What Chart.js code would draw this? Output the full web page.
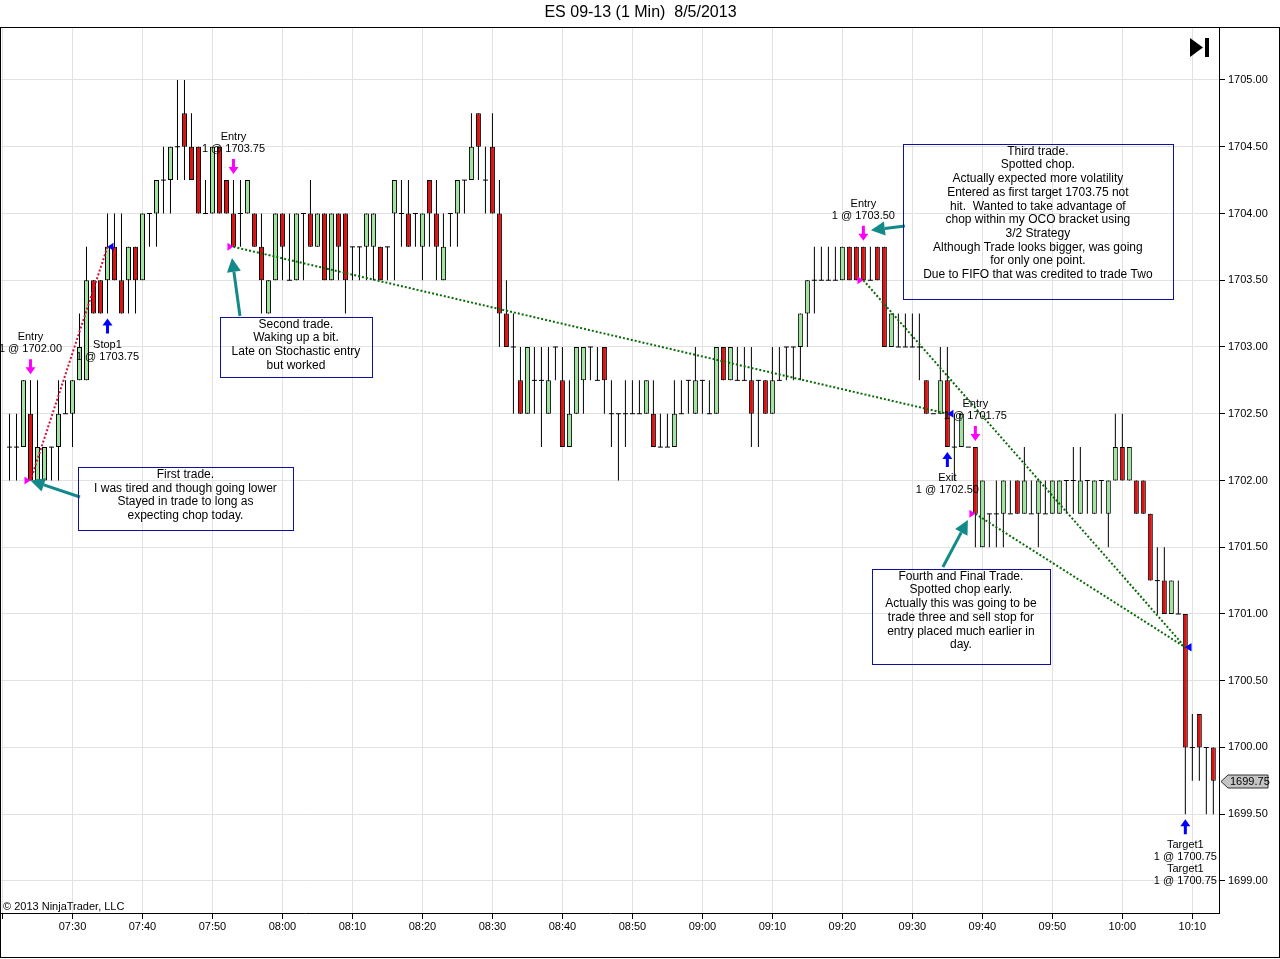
<!DOCTYPE html>
<html><head><meta charset="utf-8">
<script src="https://cdn.jsdelivr.net/npm/chart.js@4.4.0/dist/chart.umd.min.js"></script>
<style>html,body{margin:0;padding:0;background:#fff;overflow:hidden}canvas{display:block}</style>
</head><body>
<canvas id="c" width="1280" height="959"></canvas>
<script>
// ---- data (ES 09-13, 1 minute bars, 8/5/2013) ----
const times = [
'07:21','07:22','07:23','07:24','07:25','07:26','07:27','07:28','07:29','07:30',
'07:31','07:32','07:33','07:34','07:35','07:36','07:37','07:38','07:39','07:40',
'07:41','07:42','07:43','07:44','07:45','07:46','07:47','07:48','07:49','07:50',
'07:51','07:52','07:53','07:54','07:55','07:56','07:57','07:58','07:59','08:00',
'08:01','08:02','08:03','08:04','08:05','08:06','08:07','08:08','08:09','08:10',
'08:11','08:12','08:13','08:14','08:15','08:16','08:17','08:18','08:19','08:20',
'08:21','08:22','08:23','08:24','08:25','08:26','08:27','08:28','08:29','08:30',
'08:31','08:32','08:33','08:34','08:35','08:36','08:37','08:38','08:39','08:40',
'08:41','08:42','08:43','08:44','08:45','08:46','08:47','08:48','08:49','08:50',
'08:51','08:52','08:53','08:54','08:55','08:56','08:57','08:58','08:59','09:00',
'09:01','09:02','09:03','09:04','09:05','09:06','09:07','09:08','09:09','09:10',
'09:11','09:12','09:13','09:14','09:15','09:16','09:17','09:18','09:19','09:20',
'09:21','09:22','09:23','09:24','09:25','09:26','09:27','09:28','09:29','09:30',
'09:31','09:32','09:33','09:34','09:35','09:36','09:37','09:38','09:39','09:40',
'09:41','09:42','09:43','09:44','09:45','09:46','09:47','09:48','09:49','09:50',
'09:51','09:52','09:53','09:54','09:55','09:56','09:57','09:58','09:59','10:00',
'10:01','10:02','10:03','10:04','10:05','10:06','10:07','10:08','10:09','10:10',
'10:11','10:12','10:13'];
const opens = [
1702.25,1702.25,1702.25,1702.5,1702.0,1702.0,1702.25,1702.25,1702.5,1702.5,
1702.75,1702.75,1703.5,1703.5,1703.5,1703.75,1703.5,1703.5,1703.75,1703.5,
1704.0,1704.0,1704.25,1704.25,1704.5,1704.75,1704.5,1704.5,1704.0,1704.0,
1704.5,1704.25,1704.0,1704.0,1704.0,1704.0,1703.75,1703.25,1703.5,1704.0,
1703.5,1703.5,1704.0,1704.0,1703.75,1704.0,1703.5,1704.0,1704.0,1703.75,
1703.75,1703.75,1703.75,1703.75,1703.75,1704.0,1704.0,1704.0,1704.0,1703.75,
1704.25,1704.0,1703.5,1704.0,1704.0,1704.25,1704.25,1704.75,1704.25,1704.5,
1704.0,1703.25,1703.0,1702.75,1702.5,1702.75,1702.75,1702.5,1703.0,1702.75,
1702.25,1702.5,1702.75,1703.0,1702.75,1703.0,1702.5,1702.5,1702.5,1702.5,
1702.5,1702.5,1702.5,1702.25,1702.25,1702.25,1702.5,1702.75,1702.5,1702.75,
1702.5,1702.5,1703.0,1702.75,1702.75,1702.75,1702.75,1702.75,1702.75,1702.5,
1702.75,1703.0,1703.0,1703.0,1703.25,1703.5,1703.5,1703.5,1703.5,1703.5,
1703.75,1703.75,1703.75,1703.5,1703.75,1703.75,1703.0,1703.0,1703.0,1703.0,
1703.0,1702.75,1702.5,1702.5,1702.75,1702.25,1702.25,1702.25,1702.25,1701.5,
1701.75,1701.75,1701.75,1701.75,1702.0,1701.75,1701.75,1701.75,1701.75,1701.75,
1701.75,1702.0,1702.0,1701.75,1702.0,1701.75,1702.0,1701.75,1702.0,1702.25,
1702.0,1702.0,1702.0,1701.75,1701.25,1701.25,1701.0,1701.0,1701.0,1700.0,
1700.25,1700.0,1700.0];
const highs = [
1702.5,1702.5,1702.75,1702.75,1702.75,1702.25,1702.25,1702.75,1702.75,1702.75,
1703.25,1703.75,1703.5,1703.5,1704.0,1704.0,1704.0,1703.75,1703.75,1704.0,
1704.0,1704.25,1704.5,1704.5,1705.0,1705.0,1704.75,1704.5,1704.25,1704.5,
1704.5,1704.25,1704.25,1704.25,1704.25,1704.0,1704.0,1703.5,1704.0,1704.0,
1704.0,1704.0,1704.0,1704.25,1704.0,1704.0,1704.0,1704.0,1704.0,1703.75,
1703.75,1704.0,1704.0,1703.75,1703.75,1704.25,1704.25,1704.25,1704.0,1704.0,
1704.25,1704.25,1704.0,1704.0,1704.25,1704.25,1704.75,1704.75,1704.5,1704.75,
1704.25,1703.5,1703.25,1703.0,1703.0,1703.0,1703.0,1703.0,1703.0,1703.0,
1702.75,1703.0,1703.0,1703.0,1703.0,1703.0,1702.75,1702.5,1702.75,1702.75,
1702.75,1702.75,1702.75,1702.5,1702.5,1702.75,1702.75,1702.75,1703.0,1702.75,
1702.75,1703.0,1703.0,1703.0,1703.0,1703.0,1703.0,1702.75,1702.75,1703.0,
1703.0,1703.0,1703.0,1703.25,1703.5,1703.75,1703.75,1703.75,1703.75,1703.75,
1703.75,1703.75,1703.75,1703.75,1703.75,1703.75,1703.25,1703.25,1703.25,1703.25,
1703.25,1702.75,1702.5,1703.0,1703.0,1702.5,1702.5,1702.25,1702.25,1702.0,
1701.75,1702.0,1702.0,1702.0,1702.0,1702.25,1702.0,1702.0,1702.0,1702.0,
1702.0,1702.0,1702.25,1702.25,1702.0,1702.0,1702.0,1702.0,1702.5,1702.5,
1702.25,1702.0,1702.0,1701.75,1701.5,1701.5,1701.25,1701.25,1701.0,1700.25,
1700.25,1700.0,1700.0];
const lows = [
1702.0,1702.0,1702.25,1702.0,1702.0,1702.0,1702.0,1702.0,1702.5,1702.25,
1702.75,1702.75,1703.25,1703.25,1703.25,1703.5,1703.25,1703.25,1703.25,1703.5,
1703.75,1703.75,1704.0,1704.0,1704.25,1704.25,1704.25,1704.0,1704.0,1704.0,
1704.0,1704.0,1703.75,1703.75,1704.0,1703.75,1703.25,1703.25,1703.5,1703.5,
1703.5,1703.5,1703.5,1703.75,1703.75,1703.5,1703.5,1703.5,1703.25,1703.5,
1703.5,1703.5,1703.5,1703.5,1703.5,1703.5,1703.75,1703.75,1703.75,1703.5,
1703.75,1703.5,1703.5,1703.75,1703.75,1704.0,1704.25,1704.25,1704.0,1704.0,
1703.0,1703.0,1702.5,1702.5,1702.5,1702.5,1702.25,1702.5,1702.75,1702.25,
1702.25,1702.5,1702.5,1702.75,1702.75,1702.5,1702.25,1702.0,1702.25,1702.5,
1702.5,1702.5,1702.25,1702.25,1702.25,1702.25,1702.5,1702.5,1702.5,1702.5,
1702.5,1702.5,1702.75,1702.75,1702.75,1702.75,1702.25,1702.25,1702.5,1702.5,
1702.75,1702.75,1702.75,1702.75,1703.0,1703.25,1703.5,1703.5,1703.5,1703.5,
1703.5,1703.5,1703.5,1703.5,1703.5,1703.0,1703.0,1703.0,1703.0,1703.0,
1702.75,1702.5,1702.5,1702.5,1702.25,1702.0,1702.25,1702.25,1701.5,1701.5,
1701.5,1701.5,1701.5,1701.75,1701.75,1701.75,1701.75,1701.5,1701.75,1701.75,
1701.75,1701.75,1701.75,1701.75,1701.75,1701.75,1701.75,1701.5,1702.0,1702.0,
1702.0,1701.75,1701.75,1701.25,1701.0,1701.0,1701.0,1701.0,1699.5,1699.75,
1699.75,1699.5,1699.5];
const closes = [
1702.25,1702.25,1702.75,1702.0,1702.25,1702.25,1702.25,1702.5,1702.5,1702.75,
1703.0,1703.5,1703.25,1703.25,1703.75,1703.5,1703.25,1703.75,1703.5,1704.0,
1704.0,1704.25,1704.25,1704.5,1704.5,1704.5,1704.25,1704.0,1704.0,1704.5,
1704.0,1704.0,1703.75,1704.0,1704.25,1703.75,1703.5,1703.5,1704.0,1703.75,
1703.5,1704.0,1704.0,1703.75,1704.0,1703.5,1704.0,1703.75,1703.5,1703.75,
1703.75,1704.0,1704.0,1703.5,1703.75,1704.25,1704.0,1703.75,1704.0,1704.0,
1704.0,1703.75,1703.75,1704.0,1704.25,1704.25,1704.5,1704.5,1704.25,1704.0,
1703.25,1703.0,1703.0,1702.5,1703.0,1702.75,1702.75,1702.75,1703.0,1702.25,
1702.5,1703.0,1703.0,1703.0,1702.75,1702.75,1702.5,1702.5,1702.5,1702.5,
1702.5,1702.75,1702.25,1702.25,1702.25,1702.5,1702.5,1702.75,1702.75,1702.75,
1702.5,1703.0,1702.75,1703.0,1702.75,1702.75,1702.5,1702.75,1702.5,1702.75,
1702.75,1703.0,1703.0,1703.25,1703.5,1703.5,1703.5,1703.5,1703.5,1703.75,
1703.5,1703.5,1703.5,1703.5,1703.5,1703.0,1703.25,1703.0,1703.0,1703.0,
1703.0,1702.5,1702.5,1702.75,1702.25,1702.25,1702.5,1702.25,1701.75,1702.0,
1701.75,1701.75,1702.0,1701.75,1701.75,1702.0,1701.75,1702.0,1701.75,1702.0,
1702.0,1702.0,1702.0,1702.0,1702.0,1702.0,1702.0,1702.0,1702.25,1702.0,
1702.25,1701.75,1701.75,1701.25,1701.25,1701.0,1701.25,1701.0,1700.0,1700.0,
1700.0,1700.0,1699.75];

// trades: entry/exit executions (joined by dotted lines)
const tradeEntryTimes  = ['07:24','07:53','09:23','09:39'];
const tradeEntryPrices = [1702.00,1703.75,1703.50,1701.75];
const tradeExitTimes   = ['07:35','09:35','10:09','10:09'];
const tradeExitPrices  = [1703.75,1702.50,1700.75,1700.75];
const tradeLineColors  = ['#d0103c','#0a6a0a','#0a6a0a','#0a6a0a'];

// signal labels on bars
const signalTimes = ['07:24','07:35','07:53','09:23','09:35','09:39','10:09'];
const signalSides = ['entry','exit','entry','entry','exit','entry','exit'];
const signalTexts = [
  ['Entry','1 @ 1702.00'],
  ['Stop1','1 @ 1703.75'],
  ['Entry','1 @ 1703.75'],
  ['Entry','1 @ 1703.50'],
  ['Exit','1 @ 1702.50'],
  ['Entry','1 @ 1701.75'],
  ['Target1','1 @ 1700.75','Target1','1 @ 1700.75']];

// text notes: anchor = (minute-of-day at box centre, price at box top)
const noteTexts = [
  ['First trade.','I was tired and though going lower','Stayed in trade to long as','expecting chop today.'],
  ['Second trade.','Waking up a bit.','Late on Stochastic entry','but worked'],
  ['Third trade.','Spotted chop.','Actually expected more volatility','Entered as first target 1703.75 not','hit.  Wanted to take advantage of','chop within my OCO bracket using','3/2 Strategy','Although Trade looks bigger, was going','for only one point.','Due to FIFO that was credited to trade Two'],
  ['Fourth and Final Trade.','Spotted chop early.','Actually this was going to be','trade three and sell stop for','entry placed much earlier in','day.']];
const noteMinutes = [466.14, 481.93, 587.93, 576.93];
const notePrices  = [1702.101, 1703.225, 1704.521, 1701.337];
const noteSizes   = [[215,63],[152,60],[270,155],[178,95]];

// teal pointer arrows (tail -> head) in (minute, price)
const pointerTails = [[451.07,1701.876],[473.93,1703.232],[568.93,1703.906],[574.36,1701.352]];
const pointerHeads = [[444.0,1702.0],[472.79,1703.667],[564.07,1703.874],[577.93,1701.704]];

const TITLE = 'ES 09-13 (1 Min)  8/5/2013';
const GREEN = '#9fe39f', RED = '#dd1111', TEAL = '#13898a';
const FONT = "'Liberation Sans', Arial, sans-serif";

const toMin = t => { const p = t.split(':'); return (+p[0]) * 60 + (+p[1]); };
const idxOf = t => times.indexOf(t);

const wickData = times.map((t, i) => ({x: toMin(t), y: [lows[i], highs[i]]}));
const bodyIdx = times.map((t, i) => i).filter(i => opens[i] !== closes[i]);
const bodyData = bodyIdx.map(i => ({x: toMin(times[i]), y: [opens[i], closes[i]]}));
const bodyColors = bodyIdx.map(i => closes[i] > opens[i] ? GREEN : RED);
const dojiData = times.map((t, i) => i).filter(i => opens[i] === closes[i])
  .map(i => ({x: toMin(times[i]), y: [opens[i] - 0.0037, opens[i] + 0.0037]}));

const fmtTime = v => {
  const h = Math.floor(v / 60), m = Math.round(v - h * 60);
  return String(h).padStart(2, '0') + ':' + String(m).padStart(2, '0');
};

function vArrow(ctx, cx, yTip, dir, color) {
  const L = 15, headL = 7, headW = 5, sw = 1.5;
  const yBase = yTip - dir * L, yHead = yTip - dir * headL;
  ctx.beginPath();
  ctx.moveTo(cx - sw, yBase); ctx.lineTo(cx + sw, yBase);
  ctx.lineTo(cx + sw, yHead); ctx.lineTo(cx + headW, yHead);
  ctx.lineTo(cx, yTip); ctx.lineTo(cx - headW, yHead);
  ctx.lineTo(cx - sw, yHead); ctx.closePath();
  ctx.fillStyle = color; ctx.fill();
}
function pointer(ctx, x1, y1, x2, y2) {
  const a = Math.atan2(y2 - y1, x2 - x1), hl = 14, hw = 7;
  const bx = x2 - hl * Math.cos(a), by = y2 - hl * Math.sin(a);
  ctx.strokeStyle = TEAL; ctx.fillStyle = TEAL; ctx.lineWidth = 3; ctx.setLineDash([]);
  ctx.beginPath(); ctx.moveTo(x1, y1); ctx.lineTo(bx, by); ctx.stroke();
  ctx.beginPath(); ctx.moveTo(x2, y2);
  ctx.lineTo(bx + hw * Math.sin(a), by - hw * Math.cos(a));
  ctx.lineTo(bx - hw * Math.sin(a), by + hw * Math.cos(a));
  ctx.closePath(); ctx.fill();
}

const overlay = {
  id: 'overlay',
  beforeDraw(chart) {
    const c = chart.ctx; c.save(); c.fillStyle = '#fff'; c.fillRect(0, 0, chart.width, chart.height); c.restore();
  },
  afterDatasetsDraw(chart) {
    const {ctx, scales: {x, y}} = chart;
    ctx.save();
    // dotted trade lines
    for (let k = 0; k < tradeEntryTimes.length; k++) {
      ctx.strokeStyle = tradeLineColors[k]; ctx.lineWidth = 2; ctx.setLineDash([2, 2]);
      ctx.beginPath();
      ctx.moveTo(x.getPixelForValue(toMin(tradeEntryTimes[k])), y.getPixelForValue(tradeEntryPrices[k]));
      ctx.lineTo(x.getPixelForValue(toMin(tradeExitTimes[k])), y.getPixelForValue(tradeExitPrices[k]));
      ctx.stroke();
    }
    ctx.setLineDash([]);
    // execution triangles
    for (let k = 0; k < tradeEntryTimes.length; k++) {
      let cx = x.getPixelForValue(toMin(tradeEntryTimes[k])), py = y.getPixelForValue(tradeEntryPrices[k]);
      ctx.fillStyle = '#ff00ff';
      ctx.beginPath(); ctx.moveTo(cx, py); ctx.lineTo(cx - 6, py - 4); ctx.lineTo(cx - 6, py + 4); ctx.closePath(); ctx.fill();
      cx = x.getPixelForValue(toMin(tradeExitTimes[k])); py = y.getPixelForValue(tradeExitPrices[k]);
      ctx.fillStyle = '#0000ff';
      ctx.beginPath(); ctx.moveTo(cx, py); ctx.lineTo(cx + 6, py - 4); ctx.lineTo(cx + 6, py + 4); ctx.closePath(); ctx.fill();
    }
    // signal arrows + labels
    ctx.font = '11px ' + FONT; ctx.textAlign = 'center'; ctx.textBaseline = 'middle';
    for (let k = 0; k < signalTimes.length; k++) {
      const i = idxOf(signalTimes[k]);
      const cx = x.getPixelForValue(toMin(signalTimes[k]));
      const lines = signalTexts[k];
      if (signalSides[k] === 'entry') {
        const tip = y.getPixelForValue(highs[i]) - 6;
        vArrow(ctx, cx, tip, 1, '#ff00ff');
        const top = tip - 15;
        ctx.fillStyle = '#000';
        lines.forEach((s, j) => ctx.fillText(s, cx, top - 10 - 12 * (lines.length - 1 - j)));
      } else {
        const tip = y.getPixelForValue(lows[i]) + 5;
        vArrow(ctx, cx, tip, -1, '#0000ff');
        const bot = tip + 15;
        ctx.fillStyle = '#000';
        lines.forEach((s, j) => ctx.fillText(s, cx, bot + 11 + 12 * j));
      }
    }
    // pointer arrows
    for (let k = 0; k < pointerTails.length; k++) {
      pointer(ctx, x.getPixelForValue(pointerTails[k][0]), y.getPixelForValue(pointerTails[k][1]),
                   x.getPixelForValue(pointerHeads[k][0]), y.getPixelForValue(pointerHeads[k][1]));
    }
    // note boxes
    ctx.font = '12px ' + FONT;
    for (let k = 0; k < noteTexts.length; k++) {
      const cx = x.getPixelForValue(noteMinutes[k]), top = y.getPixelForValue(notePrices[k]);
      const [w, h] = noteSizes[k];
      ctx.strokeStyle = '#1010a0'; ctx.lineWidth = 1;
      ctx.strokeRect(Math.round(cx - w / 2) + 0.5, Math.round(top) + 0.5, w, h);
      ctx.fillStyle = '#000';
      noteTexts[k].forEach((s, j) => ctx.fillText(s, cx, top + 7.5 + 13.7 * j));
    }
    ctx.restore();
  },
  afterDraw(chart) {
    const {ctx, scales: {y}, chartArea: ca} = chart;
    ctx.save();
    // frame
    ctx.strokeStyle = '#000'; ctx.lineWidth = 1;
    ctx.strokeRect(0.5, 27.5, chart.width - 1, 930);
    // last price tag
    const last = closes[closes.length - 1];
    const yc = Math.round(y.getPixelForValue(last)) + 0.5;
    const x0 = ca.right + 2;
    ctx.beginPath();
    ctx.moveTo(x0, yc); ctx.lineTo(x0 + 7, yc - 6.5); ctx.lineTo(x0 + 47, yc - 6.5);
    ctx.lineTo(x0 + 47, yc + 6.5); ctx.lineTo(x0 + 7, yc + 6.5); ctx.closePath();
    ctx.fillStyle = '#c4c4c4'; ctx.fill(); ctx.strokeStyle = '#333'; ctx.stroke();
    ctx.fillStyle = '#000'; ctx.font = '11px ' + FONT; ctx.textAlign = 'left'; ctx.textBaseline = 'middle';
    ctx.fillText(last.toFixed(2), x0 + 9, yc + 0.5);
    // copyright
    ctx.fillText('\u00a9 2013 NinjaTrader, LLC', 3, ca.bottom - 6);
    // scroll-to-end icon
    ctx.fillStyle = '#000';
    ctx.beginPath(); ctx.moveTo(ca.right - 29, 38); ctx.lineTo(ca.right - 16, 47.5); ctx.lineTo(ca.right - 29, 57); ctx.closePath(); ctx.fill();
    ctx.fillRect(ca.right - 14, 38, 4, 19);
    ctx.restore();
  }
};

Chart.defaults.font.family = FONT;
Chart.defaults.font.size = 11;
Chart.defaults.color = '#000';

new Chart(document.getElementById('c'), {
  type: 'bar',
  data: {
    datasets: [
      {label: 'wick', data: wickData, backgroundColor: '#000', borderWidth: 0, grouped: false,
       maxBarThickness: 1, inflateAmount: 0, order: 3},
      {label: 'doji', data: dojiData, backgroundColor: '#000', borderWidth: 0, grouped: false,
       maxBarThickness: 5, inflateAmount: 0, order: 2},
      {label: 'body', data: bodyData, backgroundColor: bodyColors, borderColor: '#000', borderWidth: 1,
       borderSkipped: false, grouped: false, maxBarThickness: 5, inflateAmount: 0, order: 1}
    ]
  },
  options: {
    responsive: false, animation: false, events: [],
    layout: {padding: {left: 1, right: 0, top: 0, bottom: 0}},
    plugins: {
      legend: {display: false}, tooltip: {enabled: false},
      title: {display: true, text: TITLE, color: '#000', font: {size: 16, weight: 'normal', lineHeight: 1.2},
              padding: {top: 3, bottom: 5.8}}
    },
    scales: {
      x: {
        type: 'linear', offset: false, min: 439.786, max: 613.81,
        grid: {offset: false, color: '#e2e2e2', tickColor: '#000', tickLength: 6},
        border: {color: '#000'},
        ticks: {stepSize: 10, includeBounds: false, autoSkip: false, maxRotation: 0, padding: 1,
                callback: v => v < 450 ? '' : fmtTime(v)},
        afterFit: s => { s.height = 46; }
      },
      y: {
        type: 'linear', position: 'right', beginAtZero: false, min: 1698.76, max: 1705.3895,
        grid: {color: '#e2e2e2', tickColor: '#000', tickLength: 6},
        border: {color: '#000'},
        ticks: {stepSize: 0.5, includeBounds: false, padding: 3, callback: v => Number(v).toFixed(2)},
        afterFit: s => { s.width = 61; }
      }
    }
  },
  plugins: [overlay]
});
</script>
</body></html>
